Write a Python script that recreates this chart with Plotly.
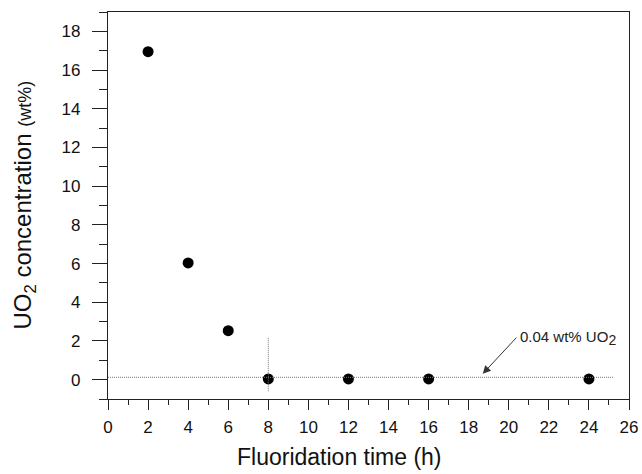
import plotly.graph_objects as go

# Data
time_h = [2, 4, 6, 8, 12, 16, 24]
uo2_wt = [16.95, 6.03, 2.53, 0.04, 0.04, 0.04, 0.04]
threshold = 0.12
threshold_label = "0.04 wt% UO<sub><span style='font-size:14px'>2</span></sub>"
x_ticks = list(range(0, 27, 2))
y_ticks = list(range(0, 19, 2))
x_title = "Fluoridation time (h)"
y_title = "UO<sub>2</sub> concentration <span style='font-size:18px'>(wt%)</span>"

FONT = "Liberation Sans, Arial"

fig = go.Figure()
fig.add_trace(go.Scatter(
    x=time_h, y=uo2_wt, mode="markers",
    marker=dict(color="black", size=11, symbol="circle"),
    showlegend=False,
))

# dotted reference lines
fig.add_shape(type="line", x0=0, x1=25.25, y0=threshold, y1=threshold,
              xref="x", yref="y", line=dict(color="#777", width=1, dash="1px,1px"))
fig.add_shape(type="line", x0=8, x1=8, y0=-0.6, y1=2.2,
              xref="x", yref="y", line=dict(color="#777", width=1, dash="1px,1px"))

# arrow + label
fig.add_annotation(x=18.7, y=0.3, ax=20.45, ay=2.25, xref="x", yref="y",
                   axref="x", ayref="y", text="", showarrow=True,
                   arrowhead=2, arrowsize=1.6, arrowwidth=1, arrowcolor="#333")
fig.add_annotation(x=20.45, y=2.15, xref="x", yref="y", text=threshold_label,
                   showarrow=False, xanchor="left", yanchor="middle",
                   font=dict(family=FONT, size=15, color="#222"))

# axis titles
fig.add_annotation(x=0.445, y=-0.150, xref="paper", yref="paper",
                   text=x_title, showarrow=False, xanchor="center", yanchor="middle",
                   font=dict(family=FONT, size=23, color="#111"))
fig.add_annotation(x=-0.161, y=0.5, xref="paper", yref="paper",
                   text=y_title, showarrow=False, textangle=-90,
                   xanchor="center", yanchor="middle",
                   font=dict(family=FONT, size=24, color="#111"))

axis_common = dict(
    showline=True, linecolor="#222", linewidth=1.2, mirror=True,
    showgrid=False, zeroline=False, ticks="outside", tickcolor="#222",
    tickfont=dict(family=FONT, size=17, color="#111"), automargin=False,
)

fig.update_xaxes(
    range=[0, 26], tickvals=x_ticks, ticklen=10, tickwidth=1.2,
    minor=dict(dtick=1, tick0=0, ticks="outside", ticklen=5, tickcolor="#222", tickwidth=1),
    ticklabelstandoff=2,
    **axis_common,
)
fig.update_yaxes(
    range=[-1, 19], tickvals=y_ticks, ticklen=15, tickwidth=1.2,
    minor=dict(dtick=1, tick0=0, ticks="outside", ticklen=8, tickcolor="#222", tickwidth=1),
    ticklabelstandoff=8,
    **axis_common,
)

fig.update_layout(
    width=642, height=474,
    margin=dict(l=108, r=13, t=12, b=75),
    plot_bgcolor="white", paper_bgcolor="white",
)

fig.write_html("out.html")
